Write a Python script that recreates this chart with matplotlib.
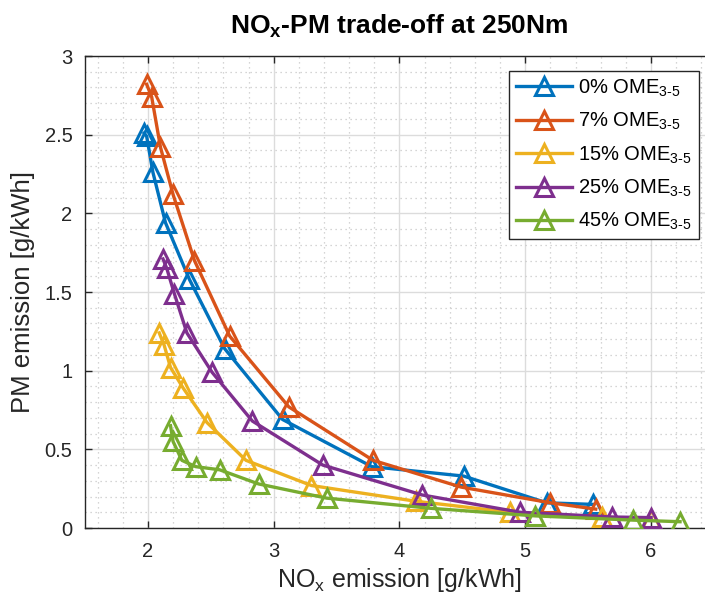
import matplotlib
matplotlib.use("Agg")
import matplotlib.pyplot as plt
from matplotlib.ticker import MultipleLocator, FuncFormatter

plt.rcParams['font.family'] = ['Liberation Sans', 'DejaVu Sans']
plt.rcParams['mathtext.fontset'] = 'custom'
plt.rcParams['mathtext.rm'] = 'Liberation Sans'
plt.rcParams['mathtext.it'] = 'Liberation Sans:italic'
plt.rcParams['mathtext.bf'] = 'Liberation Sans:bold'

labels = [r'0% OME$_{\mathrm{3\text{-}5}}$', r'7% OME$_{\mathrm{3\text{-}5}}$',
          r'15% OME$_{\mathrm{3\text{-}5}}$', r'25% OME$_{\mathrm{3\text{-}5}}$',
          r'45% OME$_{\mathrm{3\text{-}5}}$']
colors = ['#0072BD', '#D95319', '#EDB120', '#7E2F8E', '#77AC30']

nox_0 = [1.97, 1.99, 2.04, 2.14, 2.33, 2.61, 3.07, 3.78, 4.51, 5.17, 5.54]
pm_0 = [2.51, 2.49, 2.26, 1.94, 1.58, 1.14, 0.69, 0.39, 0.33, 0.16, 0.15]

nox_7 = [1.99, 2.03, 2.10, 2.20, 2.37, 2.65, 3.12, 3.79, 4.49, 5.20, 5.56]
pm_7 = [2.82, 2.74, 2.42, 2.12, 1.70, 1.22, 0.77, 0.43, 0.26, 0.16, 0.12]

nox_15 = [2.09, 2.13, 2.18, 2.28, 2.47, 2.78, 3.30, 4.13, 4.88, 5.61, 6.00]
pm_15 = [1.24, 1.16, 1.02, 0.89, 0.67, 0.43, 0.27, 0.17, 0.10, 0.07, 0.055]

nox_25 = [2.12, 2.15, 2.21, 2.31, 2.51, 2.83, 3.39, 4.18, 4.96, 5.69, 6.00]
pm_25 = [1.71, 1.65, 1.49, 1.24, 0.99, 0.68, 0.40, 0.21, 0.10, 0.07, 0.066]

nox_45 = [2.18, 2.20, 2.27, 2.38, 2.57, 2.88, 3.42, 4.25, 5.08, 5.86, 6.23]
pm_45 = [0.65, 0.55, 0.43, 0.39, 0.37, 0.28, 0.19, 0.125, 0.077, 0.05, 0.04]

series = [(nox_0, pm_0), (nox_7, pm_7), (nox_15, pm_15), (nox_25, pm_25), (nox_45, pm_45)]

fig = plt.figure(figsize=(7.05, 6.06), dpi=100)
ax = fig.add_axes([85/705, 78/606, 629/705, 472/606])

for (x, y), c, lab in zip(series, colors, labels):
    ax.plot(x, y, '-', color=c, lw=2.4, marker='^', markersize=13,
            markerfacecolor='none', markeredgecolor=c, markeredgewidth=2.2,
            label=lab, zorder=3)

ax.set_xlim(1.5, 6.5)
ax.set_ylim(0, 3)
ax.xaxis.set_major_locator(MultipleLocator(1))
ax.xaxis.set_minor_locator(MultipleLocator(0.2))
ax.yaxis.set_major_locator(MultipleLocator(0.5))
ax.yaxis.set_minor_locator(MultipleLocator(0.1))
fmt = FuncFormatter(lambda v, p: '%g' % v)
ax.xaxis.set_major_formatter(fmt)
ax.yaxis.set_major_formatter(fmt)

ax.grid(True, which='major', color='#dcdcdc', lw=1.0, ls='-', zorder=0)
ax.grid(True, which='minor', color='#c8c8c8', lw=0.9, ls=(0, (1, 3)), zorder=0)
ax.set_axisbelow(True)

ax.tick_params(which='major', direction='in', length=5, width=1, colors='#262626',
               labelsize=14.5, top=True, right=True)
ax.tick_params(axis='x', which='major', pad=10)
ax.tick_params(axis='y', which='major', pad=9)
ax.tick_params(which='minor', length=0)
for s in ax.spines.values():
    s.set_color('#262626')
    s.set_linewidth(1.0)

ax.set_xlabel(r'NO$_\mathrm{x}$ emission [g/kWh]', fontsize=18, color='#262626', labelpad=4)
ax.set_ylabel('PM emission [g/kWh]', fontsize=18.5, color='#262626', labelpad=7)

ax.set_title(r'NO$_\mathbf{x}$-PM trade-off at 250Nm', fontsize=19, fontweight='bold',
             pad=16)

leg = ax.legend(loc='upper right', bbox_to_anchor=((699-85)/629, (528-70.5)/472),
                fontsize=14.5, frameon=True, fancybox=False, edgecolor='#262626',
                framealpha=1, handlelength=2.8, borderaxespad=0, labelspacing=0.6,
                handletextpad=0.3, borderpad=0.35)
leg.get_frame().set_linewidth(1.0)

fig.savefig('out.png', dpi=100)
